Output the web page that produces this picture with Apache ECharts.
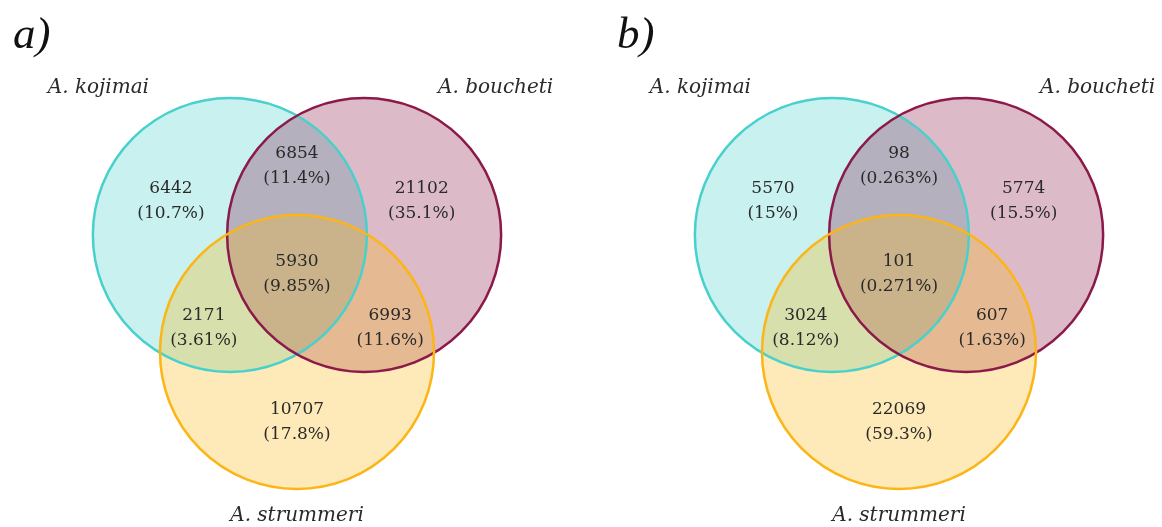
<!DOCTYPE html>
<html>
<head>
<meta charset="utf-8">
<script src="https://cdn.jsdelivr.net/npm/echarts@6/dist/echarts.min.js"></script>
<style>
html,body{margin:0;padding:0;background:#fff;}
#chart{width:1162px;height:527px;}
</style>
</head>
<body>
<div id="chart"></div>
<script>
// ---- data ----
const panelLabels = ['a)', 'b)'];
const setNames = ['A. kojimai', 'A. boucheti', 'A. strummeri'];
const regionKeys = ['A', 'B', 'C', 'AB', 'AC', 'BC', 'ABC'];
const countsA = [6442, 21102, 10707, 6854, 2171, 6993, 5930];
const countsB = [5570, 5774, 22069, 98, 3024, 607, 101];

// ---- layout (unit circle geometry, not data) ----
const R = 1;
const circleCenters = [[-0.49, 0], [0.49, 0], [0, 0.854]];
const regionPos = {
  A: [-0.92, -0.25], B: [0.91, -0.25], C: [0, 1.365],
  AB: [0, -0.5], AC: [-0.68, 0.68], BC: [0.68, 0.68], ABC: [0, 0.285]
};
const namePos = [[-1.45, -1.073], [1.45, -1.073], [0, 2.05]];
const edgeColors = ['#48D1CC', '#8B1A4A', '#FDB515'];
const fillColors = ['rgba(72,209,204,0.3)', 'rgba(139,26,74,0.3)', 'rgba(253,181,21,0.3)'];

function fmtPct(v, total) {
  const p = v / total * 100;
  return parseFloat(p.toPrecision(3)).toString() + '%';
}

const panels = [countsA, countsB];
const unitPx = 137;
const gridDefs = [{cx: 297, cy: 235}, {cx: 899, cy: 235}];
const xr = [-2.1, 1.9], yr = [-1.5, 2.1];

const grids = [], xAxes = [], yAxes = [], series = [];
gridDefs.forEach((g, i) => {
  grids.push({
    left: g.cx + xr[0] * unitPx, top: g.cy + yr[0] * unitPx,
    width: (xr[1] - xr[0]) * unitPx, height: (yr[1] - yr[0]) * unitPx
  });
  xAxes.push({type: 'value', gridIndex: i, min: xr[0], max: xr[1], show: false});
  yAxes.push({type: 'value', gridIndex: i, min: yr[0], max: yr[1], inverse: true, show: false});

  const circleData = circleCenters.map((c, k) => [c[0], c[1], R, k]);
  // fills
  series.push({
    type: 'custom', xAxisIndex: i, yAxisIndex: i, clip: false, silent: true,
    data: circleData,
    renderItem: function (params, api) {
      const p = api.coord([api.value(0), api.value(1)]);
      const s = api.size([api.value(2), api.value(2)]);
      return {type: 'circle', shape: {cx: p[0], cy: p[1], r: s[0]},
        style: {fill: fillColors[api.value(3)], stroke: null}};
    }
  });
  // edges
  series.push({
    type: 'custom', xAxisIndex: i, yAxisIndex: i, clip: false, silent: true,
    data: circleData,
    renderItem: function (params, api) {
      const p = api.coord([api.value(0), api.value(1)]);
      const s = api.size([api.value(2), api.value(2)]);
      return {type: 'circle', shape: {cx: p[0], cy: p[1], r: s[0]},
        style: {fill: 'none', stroke: edgeColors[api.value(3)], lineWidth: 2.5}};
    }
  });
  // region labels
  const counts = panels[i];
  const total = counts.reduce((a, b) => a + b, 0);
  const labelData = regionKeys.map((key, k) => ({
    value: [regionPos[key][0], regionPos[key][1]],
    txt: counts[k] + '\n(' + fmtPct(counts[k], total) + ')'
  }));
  series.push({
    type: 'custom', xAxisIndex: i, yAxisIndex: i, clip: false, silent: true,
    data: labelData, z: 5,
    renderItem: function (params, api) {
      const p = api.coord([api.value(0), api.value(1)]);
      return {type: 'text', x: p[0], y: p[1],
        style: {text: labelData[params.dataIndex].txt, align: 'center', verticalAlign: 'middle',
          font: '17px "DejaVu Serif"', lineHeight: 25, fill: '#2a2a2a'}};
    }
  });
  // set names
  const nameData = setNames.map((n, k) => ({value: namePos[k], txt: n}));
  series.push({
    type: 'custom', xAxisIndex: i, yAxisIndex: i, clip: false, silent: true,
    data: nameData, z: 5,
    renderItem: function (params, api) {
      const p = api.coord([api.value(0), api.value(1)]);
      return {type: 'text', x: p[0], y: p[1],
        style: {text: nameData[params.dataIndex].txt, align: 'center', verticalAlign: 'middle',
          font: 'italic 20px "DejaVu Serif"', fill: '#2a2a2a'}};
    }
  });
});

const chart = echarts.init(document.getElementById('chart'), null, {renderer: 'canvas'});
chart.setOption({
  backgroundColor: '#fff',
  animation: false,
  title: [
    {text: panelLabels[0], left: 8, top: 9,
      textStyle: {fontFamily: 'Liberation Serif', fontStyle: 'italic', fontWeight: 'normal', fontSize: 45, color: '#111'}},
    {text: panelLabels[1], left: 612, top: 9,
      textStyle: {fontFamily: 'Liberation Serif', fontStyle: 'italic', fontWeight: 'normal', fontSize: 45, color: '#111'}}
  ],
  grid: grids, xAxis: xAxes, yAxis: yAxes, series: series
});
</script>
</body>
</html>
